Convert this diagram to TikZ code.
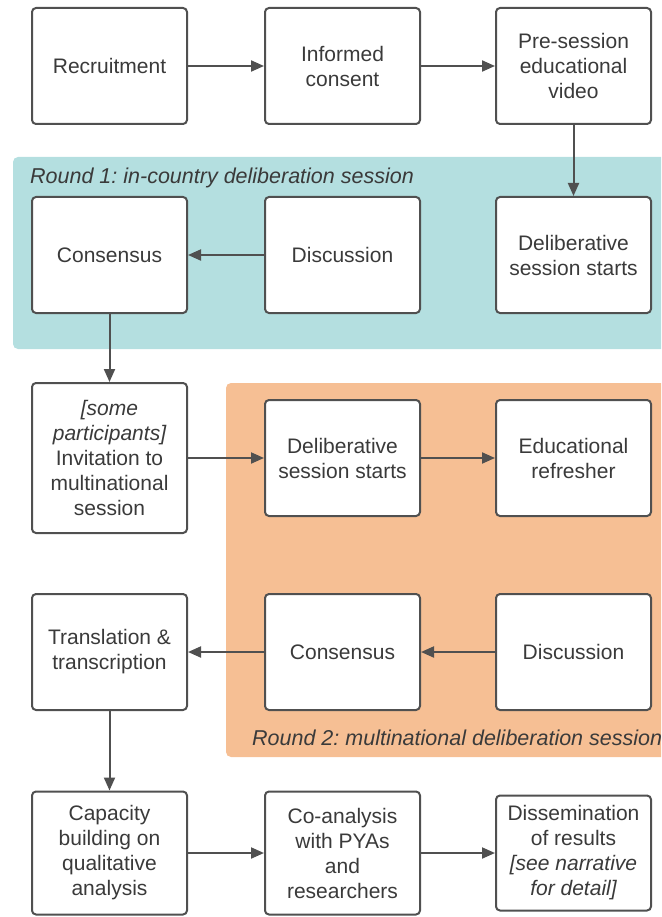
\documentclass[tikz,border=0pt]{standalone}
\usepackage{fontspec}
\setmainfont{Liberation Sans}
\usetikzlibrary{arrows.meta}
\definecolor{boxline}{HTML}{505050}
\definecolor{txt}{HTML}{3A3A3A}
\definecolor{bluep}{HTML}{B4DFE0}
\definecolor{orangep}{HTML}{F6BF94}
\tikzset{
  stepbox/.style={draw=boxline, line width=2pt, rounded corners=4pt, fill=white,
    minimum width=155pt, minimum height=116pt, align=center, text=txt,
    font=\fontsize{21}{25}\selectfont, inner sep=1pt},
  conn/.style={draw=boxline, line width=2pt, -{Triangle[length=13pt,width=11pt]}},
  paneltitle/.style={font=\fontsize{21.5}{23}\selectfont\itshape, text=txt, anchor=base west, inner sep=0pt}
}
\frenchspacing
\begin{document}
\begin{tikzpicture}[x=1pt,y=-1pt]
\useasboundingbox (0,0) rectangle (661,917);
\clip (0,0) rectangle (661,917);
% panels
\fill[bluep, rounded corners=5pt] (13,157) rectangle (680,349);
\node[paneltitle] (t1) at (30,184) {Round 1: in-country deliberation session};
\fill[orangep, rounded corners=5pt] (226,383) rectangle (680,757);
\node[paneltitle] (t2) at (252,745) {Round 2: multinational deliberation session};
% row 1
\node[stepbox] (rec) at (109.5,66) {Recruitment};
\node[stepbox] (inf) at (342.5,66) {Informed\\consent};
\node[stepbox] (pre) at (573.5,66) {Pre-session\\educational\\video};
% row 2
\node[stepbox] (con1) at (109.5,255) {Consensus};
\node[stepbox] (dis1) at (342.5,255) {Discussion};
\node[stepbox] (del1) at (573.5,255) {Deliberative\\session starts};
% row 3
\node[stepbox, minimum height=150pt] (inv) at (109.5,458) {\itshape [some\\\itshape participants]\\Invitation to\\multinational\\session};
\node[stepbox] (del2) at (342.5,458) {Deliberative\\session starts};
\node[stepbox] (edu) at (573.5,458) {Educational\\refresher};
% row 4
\node[stepbox] (tra) at (109.5,652) {Translation \&\\transcription};
\node[stepbox] (con2) at (342.5,652) {Consensus};
\node[stepbox] (dis2) at (573.5,652) {Discussion};
% row 5
\node[stepbox, minimum height=123pt] (cap) at (109.5,853) {Capacity\\building on\\qualitative\\analysis};
\node[stepbox, minimum height=123pt] (coa) at (342.5,853) {Co-analysis\\with PYAs\\and\\researchers};
\node[stepbox, minimum height=115pt] (dsm) at (573.5,853) {Dissemination\\of results\\\itshape [see narrative\\\itshape for detail]};
% connectors
\draw[conn] (rec) -- (inf);
\draw[conn] (inf) -- (pre);
\draw[conn] (pre) -- (del1);
\draw[conn] (dis1) -- (con1);
\draw[conn] (con1) -- (inv);
\draw[conn] (inv) -- (del2);
\draw[conn] (del2) -- (edu);
\draw[conn] (dis2) -- (con2);
\draw[conn] (con2) -- (tra);
\draw[conn] (tra) -- (cap);
\draw[conn] (cap) -- (coa);
\draw[conn] (coa) -- (dsm);
\end{tikzpicture}
\end{document}
